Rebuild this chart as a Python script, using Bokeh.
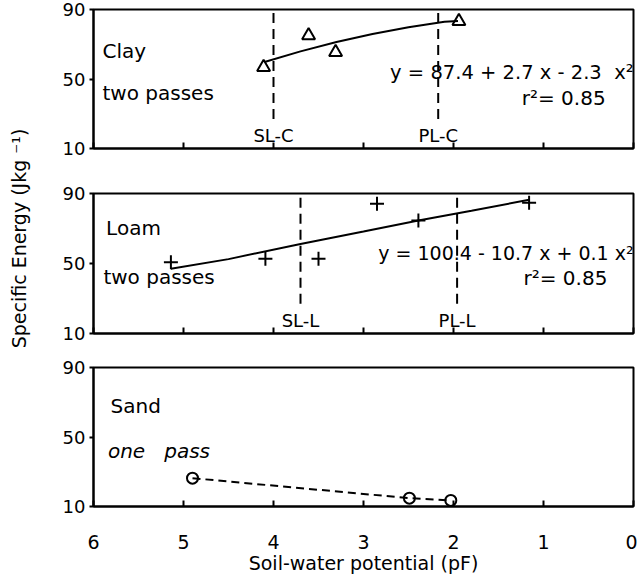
import math
from bokeh.plotting import figure
from bokeh.layouts import row, column
from bokeh.models import Range1d, FixedTicker, Label, ColumnDataSource
from bokeh.embed import file_html
from bokeh.resources import INLINE
from bokeh.core.properties import value

FONT = "DejaVu Sans"
NB = "\u00a0"

# ---------------- data ----------------
x_ticks = [6, 5, 4, 3, 2, 1, 0]
y_ticks = [10, 50, 90]

clay_pf = [4.11, 3.61, 3.31, 1.94]
clay_energy = [56.8, 75.0, 65.4, 83.3]
clay_fit_pf = [4.1, 3.7, 3.3, 2.9, 2.5, 2.1, 1.95]
clay_fit_energy = [59.8, 65.9, 71.3, 75.9, 79.8, 82.9, 83.4]
clay_limits_pf = [4.0, 2.17]
clay_limit_names = ["SL-C", "PL-C"]

loam_pf = [5.14, 4.09, 3.50, 2.85, 2.39, 1.16]
loam_energy = [50.7, 52.7, 52.7, 84.1, 74.6, 84.7]
loam_fit_pf = [5.14, 4.5, 3.7, 3.0, 2.39, 1.8, 1.16]
loam_fit_energy = [47.0, 52.5, 61.2, 68.3, 74.6, 80.2, 86.4]
loam_limits_pf = [3.70, 1.96]
loam_limit_names = ["SL-L", "PL-L"]

sand_pf = [4.90, 2.49, 2.03]
sand_energy = [26.3, 14.8, 13.5]

limit_top = 90
limit_bottom = 27
limit_label_y = 17.5

# ---------------- helpers ----------------
FRAME_W = 540
LEFT = 45
RIGHT = 4


def make_panel(frame_h, top, bottom, show_x_labels):
    p = figure(width=LEFT + FRAME_W + RIGHT, height=top + frame_h + bottom,
               x_range=Range1d(6, 0), y_range=Range1d(10, 90),
               output_backend="svg", toolbar_location=None,
               min_border_left=LEFT, min_border_right=RIGHT,
               min_border_top=top, min_border_bottom=bottom)
    p.grid.visible = False
    p.outline_line_color = "black"
    p.outline_line_width = 2
    p.background_fill_color = "white"
    p.border_fill_color = "white"

    xa = p.xaxis[0]
    xa.ticker = FixedTicker(ticks=x_ticks)
    xa.axis_line_width = 2
    xa.major_tick_line_width = 2
    xa.major_tick_in = 6
    xa.major_tick_out = 0
    xa.minor_tick_line_color = None
    if show_x_labels:
        xa.major_label_text_font = FONT
        xa.major_label_text_font_size = "19px"
        xa.major_label_text_color = "black"
        xa.major_label_standoff = 28
        xa.axis_label = "Soil-water potential (pF)"
        xa.axis_label_text_font = FONT
        xa.axis_label_text_font_size = "19px"
        xa.axis_label_text_font_style = "normal"
        xa.axis_label_text_color = "black"
        xa.axis_label_standoff = 0
    else:
        xa.major_label_overrides = {t: "" for t in x_ticks}
        xa.major_label_text_font_size = "0px"
        xa.major_label_standoff = 0

    ya = p.yaxis[0]
    ya.ticker = FixedTicker(ticks=y_ticks)
    ya.axis_line_width = 2
    ya.major_tick_line_width = 2
    ya.major_tick_in = 0
    ya.major_tick_out = 4
    ya.minor_tick_line_color = None
    ya.major_label_text_font = FONT
    ya.major_label_text_font_size = "18px"
    ya.major_label_text_color = "black"
    ya.major_label_standoff = 4
    return p


def add_text(p, x, y, text, size="20px", align="left", style="normal"):
    p.add_layout(Label(x=x, y=y, text=text, text_font=FONT, text_font_size=size,
                       text_align=align, text_baseline="middle", text_color="black",
                       text_font_style=style))


def add_limits(p, xs, names):
    src = ColumnDataSource(dict(x=xs, y0=[limit_bottom] * len(xs), y1=[limit_top] * len(xs),
                                ly=[limit_label_y] * len(xs), name=names))
    p.segment(x0="x", y0="y0", x1="x", y1="y1", source=src, line_color="black",
              line_width=2, line_dash="10 6")
    p.text(x="x", y="ly", text="name", source=src, text_font=value(FONT),
           text_font_size="18px", text_align="center", text_baseline="middle",
           text_color="black")


# ---------------- Clay ----------------
p1 = make_panel(139, 9, 22, False)
add_limits(p1, clay_limits_pf, clay_limit_names)
p1.line(clay_fit_pf, clay_fit_energy, line_color="black", line_width=2)
p1.scatter(clay_pf, clay_energy, marker="triangle", size=13, fill_color=None,
           line_color="black", line_width=2)
add_text(p1, 5.90, 66.4, "Clay")
add_text(p1, 5.90, 41.8, "two passes")
add_text(p1, 0.0, 53.9, "y = 87.4 + 2.7 x - 2.3" + NB + NB + "x²", size="19.5px", align="right")
add_text(p1, 0.31, 39.1, "r²= 0.85", size="20px", align="right")

# ---------------- Loam ----------------
p2 = make_panel(140, 23, 17, False)
add_limits(p2, loam_limits_pf, loam_limit_names)
p2.line(loam_fit_pf, loam_fit_energy, line_color="black", line_width=2)
p2.scatter(loam_pf, loam_energy, marker="cross", size=14, line_color="black", line_width=2)
add_text(p2, 5.86, 70.3, "Loam")
add_text(p2, 5.89, 42.2, "two passes")
add_text(p2, 0.0, 56.0, "y = 100.4 - 10.7 x + 0.1 x²", size="19px", align="right")
add_text(p2, 0.29, 41.7, "r²= 0.85", size="20px", align="right")

# ---------------- Sand ----------------
p3 = make_panel(139, 17, 73, True)
p3.line(sand_pf, sand_energy, line_color="black", line_width=2, line_dash="8 5")
p3.scatter(sand_pf, sand_energy, marker="circle", size=11, fill_color=None,
           line_color="black", line_width=2)
add_text(p3, 5.81, 67.7, "Sand")
add_text(p3, 5.84, 42.2, "one" + NB * 3 + "pass", style="italic")

# ---------------- shared y-axis title ----------------
TOTAL_H = p1.height + p2.height + p3.height
LW = 48
pl = figure(width=LW, height=TOTAL_H, x_range=Range1d(0, LW), y_range=Range1d(0, TOTAL_H),
            x_axis_type=None, y_axis_type=None, output_backend="svg", toolbar_location=None,
            min_border=0, min_border_left=0, min_border_right=0, min_border_top=0,
            min_border_bottom=0)
pl.grid.visible = False
pl.outline_line_color = None
pl.add_layout(Label(x=18, y=TOTAL_H - 238, text="Specific Energy (Jkg ⁻¹)",
                    angle=math.pi / 2, text_font=FONT, text_font_size="19px",
                    text_align="center", text_baseline="middle", text_color="black"))

layout = row(pl, column(p1, p2, p3))

open("out.html", "w").write(file_html(layout, INLINE))
